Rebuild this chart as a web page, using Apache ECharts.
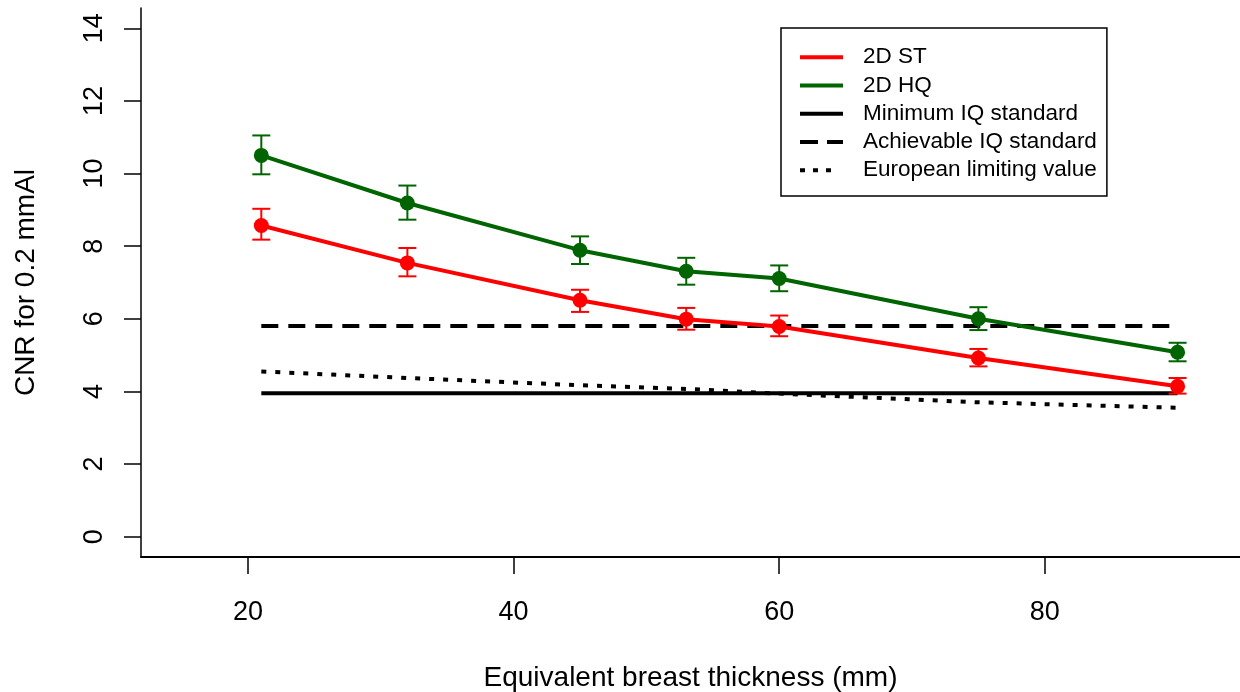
<!DOCTYPE html>
<html><head><meta charset="utf-8">
<script src="https://cdn.jsdelivr.net/npm/echarts@6/dist/echarts.min.js"></script>
<style>html,body{margin:0;padding:0;background:#fff}#c{width:1240px;height:692px}</style>
</head><body><div id="c"></div>
<script>
// ---- data ----
const thickness = [21, 32, 45, 53, 60, 75, 90];
const stMean = [8.57, 7.54, 6.51, 5.99, 5.79, 4.92, 4.14];
const stLow  = [8.18, 7.17, 6.19, 5.70, 5.52, 4.69, 3.94];
const stHigh = [9.03, 7.95, 6.80, 6.30, 6.09, 5.17, 4.37];
const hqMean = [10.50, 9.19, 7.89, 7.31, 7.11, 6.00, 5.08];
const hqLow  = [9.98, 8.73, 7.51, 6.94, 6.76, 5.69, 4.83];
const hqHigh = [11.05, 9.67, 8.27, 7.68, 7.47, 6.32, 5.34];
const minimumIQ = [3.95, 3.95];
const minimumX = [21, 90];
const achievableIQ = [5.8, 5.8];
const achievableX = [21, 90];
const europeanLimit = [4.55, 4.37, 4.17, 4.07, 3.94, 3.70, 3.55];
const xTicks = [20, 40, 60, 80];
const yTicks = [0, 2, 4, 6, 8, 10, 12, 14];
const names = ['2D ST', '2D HQ', 'Minimum IQ standard', 'Achievable IQ standard', 'European limiting value'];

const RED = '#ff0000', GREEN = '#006400', BLACK = '#000000';
const FONT = 'Liberation Sans, Arial, sans-serif';
const LW = 4;
const zip = (xs, ys) => xs.map((x, i) => [x, ys[i]]);

// legend sample icons (43 x 4 px)
const ICON_SOLID = 'path://M0,0H43V4H0Z';
const ICON_DASH = 'path://M0,0H18V4H0Z M27,0H43V4H27Z';
const ICON_DOT = 'path://M0,0H5V4H0Z M13,0H18V4H13Z M26,0H31V4H26Z M43,4Z';
const legendIcons = [ICON_SOLID, ICON_SOLID, ICON_SOLID, ICON_DASH, ICON_DOT];

function errSeries(name, low, high, color) {
  return {
    type: 'custom', name: name, silent: true, z: 4,
    data: thickness.map((x, i) => [x, low[i], high[i]]),
    encode: { x: 0, y: [1, 2] },
    renderItem: function (params, api) {
      const x = api.value(0);
      const lo = api.coord([x, api.value(1)]);
      const hi = api.coord([x, api.value(2)]);
      const w = 9;
      const style = { stroke: color, lineWidth: 2, fill: null };
      return { type: 'group', children: [
        { type: 'line', shape: { x1: lo[0], y1: lo[1], x2: hi[0], y2: hi[1] }, style: style },
        { type: 'line', shape: { x1: lo[0] - w, y1: lo[1], x2: lo[0] + w, y2: lo[1] }, style: style },
        { type: 'line', shape: { x1: hi[0] - w, y1: hi[1], x2: hi[0] + w, y2: hi[1] }, style: style }
      ] };
    }
  };
}
function lineSeries(name, data, color, type, z) {
  return { type: 'line', name: name, data: data, symbol: 'none', silent: true, z: z || 2,
    lineStyle: { color: color, width: LW, type: type, cap: 'butt' }, itemStyle: { color: color } };
}
function pointSeries(name, data, color) {
  return { type: 'scatter', name: name, data: data, symbol: 'circle', symbolSize: 15, z: 5, silent: true,
    itemStyle: { color: color, opacity: 1 } };
}

const chart = echarts.init(document.getElementById('c'), null, { renderer: 'canvas' });
chart.setOption({
  animation: false,
  backgroundColor: '#ffffff',
  grid: { left: 141, right: 0, top: 8, bottom: 135, containLabel: false, outerBoundsMode: 'none' },
  legend: {
    data: names.map((n, i) => ({ name: n, icon: legendIcons[i] })),
    orient: 'vertical', left: 781, top: 28,
    padding: [17.7, 10, 14.3, 19], itemWidth: 43, itemHeight: 4, itemGap: 5.25,
    symbolKeepAspect: false,
    borderColor: BLACK, borderWidth: 1.5, borderRadius: 0, selectedMode: false,
    textStyle: { fontSize: 22.5, lineHeight: 22, color: BLACK, fontFamily: FONT, padding: [0, 0, 0, 15] }
  },
  xAxis: {
    type: 'value', min: 11.94, max: 94.7,
    axisLine: { show: true, onZero: false, lineStyle: { color: BLACK, width: 1.8 } },
    axisTick: { show: true, length: 17, customValues: xTicks, lineStyle: { color: BLACK, width: 1.5 } },
    axisLabel: { customValues: xTicks, margin: 42, fontSize: 27, color: BLACK, fontFamily: FONT },
    splitLine: { show: false },
    name: 'Equivalent breast thickness (mm)', nameLocation: 'middle', nameGap: 107,
    nameTextStyle: { fontSize: 28, color: BLACK, fontFamily: FONT }
  },
  yAxis: {
    type: 'value', min: -0.56, max: 14.56,
    axisLine: { show: true, onZero: false, lineStyle: { color: BLACK, width: 1.5 } },
    axisTick: { show: true, length: 17, customValues: yTicks, lineStyle: { color: BLACK, width: 1.5 } },
    axisLabel: { customValues: yTicks, margin: 33, rotate: 90, fontSize: 27, color: BLACK, fontFamily: FONT },
    splitLine: { show: false },
    name: 'CNR for 0.2 mmAl', nameLocation: 'middle', nameGap: 101,
    nameTextStyle: { fontSize: 28, color: BLACK, fontFamily: FONT }
  },
  series: [
    lineSeries(names[0], zip(thickness, stMean), RED, 'solid', 3),
    lineSeries(names[1], zip(thickness, hqMean), GREEN, 'solid', 3),
    lineSeries(names[2], zip(minimumX, minimumIQ), BLACK, 'solid'),
    lineSeries(names[3], zip(achievableX, achievableIQ), BLACK, [17, 10]),
    lineSeries(names[4], zip(thickness, europeanLimit), BLACK, [5, 9]),
    errSeries('ST error', stLow, stHigh, RED),
    errSeries('HQ error', hqLow, hqHigh, GREEN),
    pointSeries('ST points', zip(thickness, stMean), RED),
    pointSeries('HQ points', zip(thickness, hqMean), GREEN)
  ]
});
</script></body></html>
